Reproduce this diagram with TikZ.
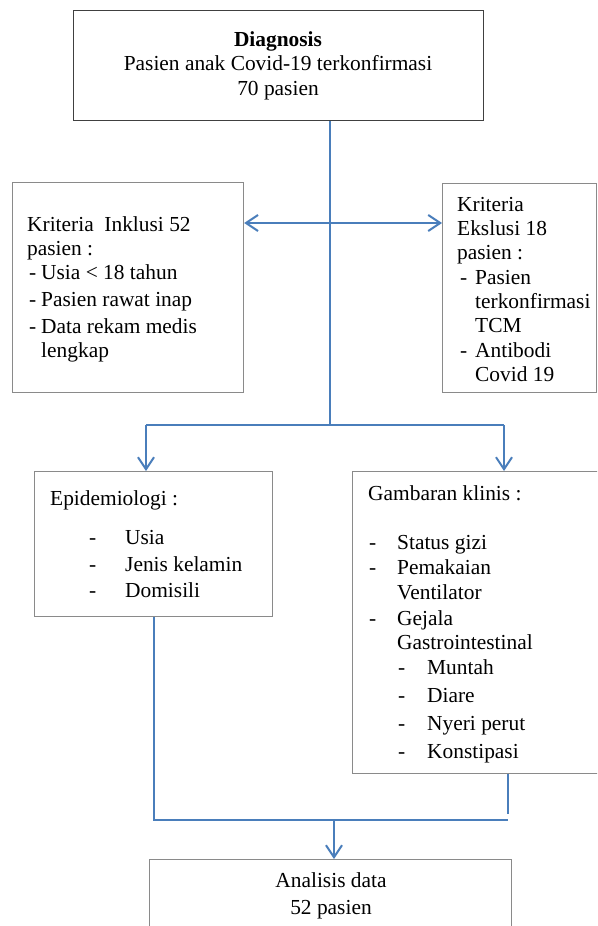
\documentclass[tikz,border=0pt]{standalone}
\usepackage{fontspec}
\setmainfont{Liberation Serif}
\usetikzlibrary{arrows.meta}
\definecolor{connc}{HTML}{4A7EBB}
\definecolor{boxc}{HTML}{8A8A8A}
\definecolor{topc}{HTML}{404040}
\newcommand{\dsh}[1]{\makebox[#1][l]{-}}
\begin{document}
\begin{tikzpicture}[x=1pt,y=-1pt,
  box/.style={draw=boxc, line width=1.2pt, inner sep=0pt, anchor=north west},
  conn/.style={draw=connc, line width=2pt},
  arr/.style={conn, -{Straight Barb[length=12pt,width=16pt,line width=2pt]}},
  dblarr/.style={conn, {Straight Barb[length=12pt,width=16pt,line width=2pt]}-{Straight Barb[length=12pt,width=16pt,line width=2pt]}},
  txt/.style={anchor=base west, inner sep=0pt, font=\fontsize{21.4}{25}\selectfont},
  ctxt/.style={anchor=base, inner sep=0pt, font=\fontsize{21.4}{25}\selectfont}]
\useasboundingbox (0,0) rectangle (597,926);
\clip (0,0) rectangle (597,926);
\fill[white] (0,0) rectangle (597,926);

% boxes
\node[box, draw=topc, minimum width=410pt, minimum height=110pt] (diag) at (73,10) {};
\node[box, minimum width=231pt, minimum height=210pt] (incl) at (12,182) {};
\node[box, minimum width=154pt, minimum height=209pt] (excl) at (442,183) {};
\node[box, minimum width=238pt, minimum height=145pt] (epi) at (34,471) {};
\node[box, minimum width=280pt, minimum height=302pt] (gamb) at (352,471) {};
\node[box, minimum width=362pt, minimum height=110pt] (ana) at (149,859) {};

% texts
\node[ctxt, font=\fontsize{21.4}{25}\selectfont\bfseries] (d1) at (278,46) {Diagnosis};
\node[ctxt] (d2) at (278,70) {Pasien anak Covid-19 terkonfirmasi};
\node[ctxt] (d3) at (278,95) {70 pasien};

\node[txt] (i1) at (27,231) {Kriteria\ \ Inklusi 52};
\node[txt] (i2) at (27,255) {pasien :};
\node[txt] (i3) at (29,279) {\dsh{12pt}Usia < 18 tahun};
\node[txt] (i4) at (29,306) {\dsh{12pt}Pasien rawat inap};
\node[txt] (i5) at (29,333) {\dsh{12pt}Data rekam medis};
\node[txt] (i6) at (41,357) {lengkap};

\node[txt] (e1) at (457,211) {Kriteria};
\node[txt] (e2) at (457,235) {Ekslusi 18};
\node[txt] (e3) at (457,259) {pasien :};
\node[txt] (e4) at (460,284) {\dsh{15pt}Pasien};
\node[txt] (e5) at (475,308) {terkonfirmasi};
\node[txt] (e6) at (475,332) {TCM};
\node[txt] (e7) at (460,357) {\dsh{15pt}Antibodi};
\node[txt] (e8) at (475,381) {Covid 19};

\node[txt] (p1) at (50,505) {Epidemiologi :};
\node[txt] (p2) at (89,544) {\dsh{36pt}Usia};
\node[txt] (p3) at (89,571) {\dsh{36pt}Jenis kelamin};
\node[txt] (p4) at (89,597) {\dsh{36pt}Domisili};

\node[txt] (g1) at (368,500) {Gambaran klinis :};
\node[txt] (g2) at (369,549) {\dsh{28pt}Status gizi};
\node[txt] (g3) at (369,574) {\dsh{28pt}Pemakaian};
\node[txt] (g4) at (397,599) {Ventilator};
\node[txt] (g5) at (369,625) {\dsh{28pt}Gejala};
\node[txt] (g6) at (397,649) {Gastrointestinal};
\node[txt] (g7) at (398,674) {\dsh{29pt}Muntah};
\node[txt] (g8) at (398,702) {\dsh{29pt}Diare};
\node[txt] (g9) at (398,730) {\dsh{29pt}Nyeri perut};
\node[txt] (g10) at (398,758) {\dsh{29pt}Konstipasi};

\node[ctxt] (a1) at (331,887) {Analisis data};
\node[ctxt] (a2) at (331,914) {52 pasien};

% connectors
\coordinate (c1) at (330,425);
\coordinate (ha) at (330,223);
\coordinate (bl) at (146,425);
\coordinate (br) at (504,425);
\coordinate (ml) at (154,820);
\coordinate (mr) at (508,820);
\coordinate (mm) at (334,820);

\draw[conn] (c1 |- diag.south) -- (c1);
\draw[dblarr] (incl.east |- ha) -- (excl.west |- ha);
\draw[conn] (bl) -- (br);
\draw[arr] (bl) -- (bl |- epi.north);
\draw[arr] (br) -- (br |- gamb.north);
\draw[conn] (ml |- epi.south) -- (ml) -- (mr);
\draw[conn] (mr |- gamb.south) -- ([yshift=6pt]mr);
\draw[arr] (mm) -- (mm |- ana.north);
\end{tikzpicture}
\end{document}
